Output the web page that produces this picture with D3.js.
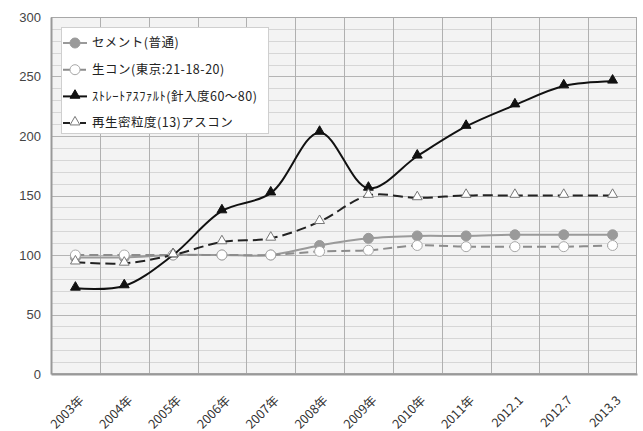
<!DOCTYPE html>
<html>
<head>
<meta charset="utf-8">
<script src="https://cdn.jsdelivr.net/npm/d3@7"></script>
<style>
  body { margin: 0; background: #fff; }
  svg { display: block; }
</style>
</head>
<body>
<div id="chart"></div>
<script>
// Data
var categories = ["2003年", "2004年", "2005年", "2006年", "2007年", "2008年",
                  "2009年", "2010年", "2011年", "2012.1", "2012.7", "2013.3"];
var cement     = [98, 98, 100, 100, 100, 108, 114, 116, 116, 117, 117, 117];
var namacon    = [100, 100, 100, 100, 100, 103, 104, 108, 107, 107, 107, 108];
var asphalt    = [72, 74, 100, 137, 152, 203, 156, 183, 208, 226, 242, 246];
var recycled   = [94, 93, 100, 111, 114, 128, 150, 148, 150, 150, 150, 150];
var seriesNames = ["セメント(普通)", "生コン(東京:21-18-20)",
                   "ｽﾄﾚｰﾄｱｽﾌｧﾙﾄ(針入度60～80)", "再生密粒度(13)アスコン"];
var yTicks = [0, 50, 100, 150, 200, 250, 300];

var chart_width  = 643;
var chart_height = 431;
var plot_left = 51, plot_right = 637, plot_top = 17, plot_bottom = 374;

var series = [
  { name: seriesNames[0], values: cement,   line: "#9a9a9a", dash: null,  marker: "circle",   fill: "#9a9a9a", mstroke: "#9a9a9a" },
  { name: seriesNames[1], values: namacon,  line: "#8c8c8c", dash: "9,5", marker: "circle",   fill: "#ffffff", mstroke: "#a8a8a8" },
  { name: seriesNames[2], values: asphalt,  line: "#111111", dash: null,  marker: "triangle", fill: "#111111", mstroke: "#111111" },
  { name: seriesNames[3], values: recycled, line: "#222222", dash: "10,5", marker: "triangle", fill: "#ffffff", mstroke: "#777777" }
];

// Scales
var x_scale = d3.scaleBand()
  .domain(categories)
  .range([plot_left, plot_right]);

var y_scale = d3.scaleLinear()
  .domain([0, 300])
  .range([plot_bottom, plot_top]);

var svg = d3.select("#chart")
  .append("svg")
  .attr("width", chart_width)
  .attr("height", chart_height);

// plot background
svg.append("rect")
  .attr("x", plot_left).attr("y", plot_top)
  .attr("width", plot_right - plot_left).attr("height", plot_bottom - plot_top)
  .attr("fill", "#f3f3f3");

// minor horizontal grid every 10
svg.append("g")
  .selectAll("line")
  .data(d3.range(10, 300, 10).filter(function(v) { return v % 50 !== 0; }))
  .enter().append("line")
  .attr("x1", plot_left).attr("x2", plot_right)
  .attr("y1", function(d) { return Math.round(y_scale(d)) + 0.5; })
  .attr("y2", function(d) { return Math.round(y_scale(d)) + 0.5; })
  .attr("stroke", "#d6d6d6").attr("stroke-width", 1);

// major horizontal grid
svg.append("g")
  .selectAll("line")
  .data(yTicks.slice(1))
  .enter().append("line")
  .attr("x1", plot_left).attr("x2", plot_right)
  .attr("y1", function(d) { return Math.round(y_scale(d)) + 0.5; })
  .attr("y2", function(d) { return Math.round(y_scale(d)) + 0.5; })
  .attr("stroke", "#b4b4b4").attr("stroke-width", 1);

// vertical grid at category boundaries
svg.append("g")
  .selectAll("line")
  .data(categories.slice(1))
  .enter().append("line")
  .attr("x1", function(d) { return Math.round(x_scale(d)) + 0.5; })
  .attr("x2", function(d) { return Math.round(x_scale(d)) + 0.5; })
  .attr("y1", plot_top).attr("y2", plot_bottom)
  .attr("stroke", "#b0b0b0").attr("stroke-width", 1);

// frame
svg.append("rect")
  .attr("x", plot_left + 0.5).attr("y", plot_top + 0.5)
  .attr("width", plot_right - plot_left - 1).attr("height", plot_bottom - plot_top - 1)
  .attr("fill", "none").attr("stroke", "#a8a8a8");

// axes
var y_axis = d3.axisLeft(y_scale).tickValues(yTicks).tickSize(0).tickPadding(10);
var gy = svg.append("g").attr("transform", "translate(" + plot_left + ",0)").call(y_axis);
gy.select(".domain").attr("stroke", "#999").attr("stroke-width", 2);
gy.selectAll("text")
  .style("font-family", "Liberation Sans, Arial, sans-serif")
  .style("font-size", "13px")
  .attr("fill", "#444");

var x_axis = d3.axisBottom(x_scale).tickSize(0).tickPadding(0);
var gx = svg.append("g").attr("transform", "translate(0," + plot_bottom + ")").call(x_axis);
gx.select(".domain").attr("stroke", "#999").attr("stroke-width", 2);
gx.selectAll("text")
  .style("font-family", "'Noto Sans CJK JP', sans-serif")
  .style("font-size", "12.5px")
  .attr("fill", "#333")
  .attr("text-anchor", "end")
  .attr("y", 0)
  .attr("dy", "0.35em")
  .attr("transform", "translate(6,24) rotate(-45)");

// lines and markers
var line = d3.line()
  .x(function(d, i) { return x_scale(categories[i]) + x_scale.bandwidth() / 2; })
  .y(function(d) { return y_scale(d); })
  .curve(d3.curveCatmullRom.alpha(0.5));

var tri = d3.symbol().type(d3.symbolTriangle).size(42);

function drawMarker(g, s, cx, cy) {
  if (s.marker === "circle") {
    g.append("circle")
      .attr("cx", cx).attr("cy", cy).attr("r", 5)
      .attr("fill", s.fill).attr("stroke", s.mstroke).attr("stroke-width", 1);
  } else {
    g.append("path")
      .attr("d", tri)
      .attr("transform", "translate(" + cx + "," + (cy - 1) + ")")
      .attr("fill", s.fill).attr("stroke", s.mstroke).attr("stroke-width", 1);
  }
}

series.forEach(function(s) {
  var g = svg.append("g");
  g.append("path")
    .attr("d", line(s.values))
    .attr("fill", "none")
    .attr("stroke", s.line)
    .attr("stroke-width", 2)
    .attr("stroke-dasharray", s.dash);
  s.values.forEach(function(v, i) {
    drawMarker(g, s, x_scale(categories[i]) + x_scale.bandwidth() / 2, y_scale(v));
  });
});

// Legend
var legend = svg.append("g");
legend.append("rect")
  .attr("x", 61.5).attr("y", 27.5)
  .attr("width", 207).attr("height", 106)
  .attr("fill", "#ffffff").attr("stroke", "#cfcfcf");

series.forEach(function(s, i) {
  var ly = 43 + i * 26.7;
  var item = legend.append("g");
  item.append("line")
    .attr("x1", 63).attr("x2", 87)
    .attr("y1", ly).attr("y2", ly)
    .attr("stroke", s.line).attr("stroke-width", 2)
    .attr("stroke-dasharray", s.dash ? "7,10,6,10" : null);
  drawMarker(item, s, 75, ly);
  item.append("text")
    .attr("x", 92).attr("y", ly)
    .attr("dy", "0.35em")
    .style("font-family", "'Noto Sans CJK JP', sans-serif")
    .style("font-size", "12.5px")
    .style("letter-spacing", "0.5px")
    .attr("fill", "#222")
    .text(s.name);
});
</script>
</body>
</html>
